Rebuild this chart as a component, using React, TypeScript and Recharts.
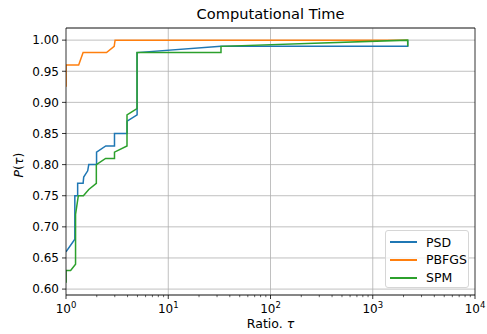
import React from "react";
import { CartesianGrid, Line, LineChart, ReferenceLine, XAxis, YAxis } from "recharts";

// performance profile
const psdTau = [1, 1.22, 1.22, 1.3, 1.3, 1.47, 1.49, 1.63, 1.67, 1.99, 1.99, 2.45, 2.98, 2.98, 3.96, 3.96, 4.96, 4.96, 32.8, 2198, 2198];
const psdP = [0.66, 0.68, 0.75, 0.75, 0.77, 0.77, 0.78, 0.79, 0.8, 0.8, 0.82, 0.83, 0.83, 0.85, 0.85, 0.87, 0.88, 0.98, 0.99, 0.99, 1.0];

const pbfgsTau = [1, 1, 1.33, 1.47, 2.49, 2.96, 3.02, 2198];
const pbfgsP = [0.925, 0.96, 0.96, 0.98, 0.98, 0.99, 1.0, 1.0];

const spmTau = [1, 1, 1.11, 1.24, 1.24, 1.32, 1.48, 1.67, 1.98, 1.98, 2.44, 2.98, 2.98, 3.95, 3.95, 4.95, 4.95, 32.8, 32.8, 2198, 2198];
const spmP = [0.61, 0.63, 0.63, 0.64, 0.72, 0.75, 0.75, 0.76, 0.77, 0.8, 0.81, 0.81, 0.82, 0.83, 0.88, 0.89, 0.98, 0.98, 0.99, 1.0, 0.99];

const xMajor = [1, 10, 100, 1000, 10000];
const xMinor = [1, 10, 100, 1000].flatMap((d) => [2, 3, 4, 5, 6, 7, 8, 9].map((k) => k * d));
const yTicks = [0.6, 0.65, 0.7, 0.75, 0.8, 0.85, 0.9, 0.95, 1.0];
const yDomain = [0.5905, 1.0195];

const series = [
  { name: "PSD", color: "#1f77b4", tau: psdTau, p: psdP },
  { name: "PBFGS", color: "#ff7f0e", tau: pbfgsTau, p: pbfgsP },
  { name: "SPM", color: "#2ca02c", tau: spmTau, p: spmP },
];

const FONT = "'DejaVu Sans', sans-serif";

function LogTick(props: any) {
  const { x, y, payload } = props;
  const v = payload.value as number;
  const major = xMajor.includes(v);
  if (!major) {
    return <line x1={x} x2={x} y1={y} y2={y + 2.2} stroke="#000" strokeWidth={0.6} />;
  }
  const exp = Math.round(Math.log10(v));
  return (
    <g>
      <line x1={x} x2={x} y1={y} y2={y + 4} stroke="#000" strokeWidth={0.8} />
      <text x={x} y={y + 18} textAnchor="middle" fontSize={12} fontFamily={FONT} fill="#000">
        <tspan>10</tspan>
        <tspan dy={-5} fontSize={8.5}>{exp}</tspan>
      </text>
    </g>
  );
}

export default function App() {
  return (
    <div style={{ position: "relative", width: 487, height: 334, background: "#fff", fontFamily: FONT }}>
      <style>{"body{margin:0}"}</style>
      <div style={{ position: "absolute", left: 66, width: 409, top: 5, textAlign: "center", fontSize: 14.6, color: "#000" }}>
        Computational Time
      </div>
      <LineChart width={487} height={334} margin={{ top: 28, right: 12, bottom: 0, left: 0 }}>
        <CartesianGrid vertical={false} stroke="#b0b0b0" strokeWidth={0.8} />
        {[10, 100, 1000].map((v) => (
          <ReferenceLine key={v} x={v} stroke="#b0b0b0" strokeWidth={0.8} />
        ))}
        <XAxis
          dataKey="tau"
          type="number"
          scale="log"
          domain={[1, 10000]}
          ticks={[...xMajor, ...xMinor]}
          interval={0}
          allowDataOverflow
          height={39}
          tickSize={0}
          tickMargin={0}
          tickLine={false}
          tick={<LogTick />}
          stroke="#000"
          strokeWidth={0.8}
        />
        <YAxis
          type="number"
          domain={yDomain}
          ticks={yTicks}
          interval={0}
          width={66}
          tickSize={4}
          tickMargin={3}
          tickFormatter={(v: number) => v.toFixed(2)}
          tick={{ fontSize: 12, fill: "#000", fontFamily: FONT }}
          tickLine={{ stroke: "#000", strokeWidth: 0.8 }}
          stroke="#000"
          strokeWidth={0.8}
          allowDataOverflow
        />
        <ReferenceLine x={10000} stroke="#000" strokeWidth={0.8} />
        <ReferenceLine y={yDomain[1]} stroke="#000" strokeWidth={0.8} />
        {series.map((s) => (
          <Line
            key={s.name}
            data={s.tau.map((t, i) => ({ tau: t, p: s.p[i] }))}
            dataKey="p"
            name={s.name}
            type="linear"
            stroke={s.color}
            strokeWidth={1.5}
            dot={false}
            activeDot={false}
            isAnimationActive={false}
          />
        ))}
      </LineChart>
      <div style={{ position: "absolute", left: 66, width: 409, top: 317, textAlign: "center", fontSize: 12.5, color: "#000", lineHeight: "14px" }}>
        Ratio. <i>τ</i>
      </div>
      <div
        style={{
          position: "absolute",
          left: 18,
          top: 165,
          transform: "translate(-50%, -50%) rotate(-90deg)",
          fontSize: 12.5,
          color: "#000",
          whiteSpace: "nowrap",
        }}
      >
        <i>P</i>(<i>τ</i>)
      </div>
      <div
        style={{
          position: "absolute",
          left: 385,
          top: 230,
          width: 84,
          height: 58,
          border: "1px solid #d6d6d6",
          borderRadius: 3,
          background: "rgba(255,255,255,0.8)",
          boxSizing: "border-box",
          fontSize: 12.5,
          color: "#000",
        }}
      >
        {series.map((s, i) => (
          <div key={s.name} style={{ position: "absolute", left: 4, top: 3 + i * 17.8, height: 16, display: "flex", alignItems: "center" }}>
            <span style={{ display: "inline-block", width: 27, height: 2, background: s.color, marginRight: 9 }} />
            <span>{s.name}</span>
          </div>
        ))}
      </div>
    </div>
  );
}
